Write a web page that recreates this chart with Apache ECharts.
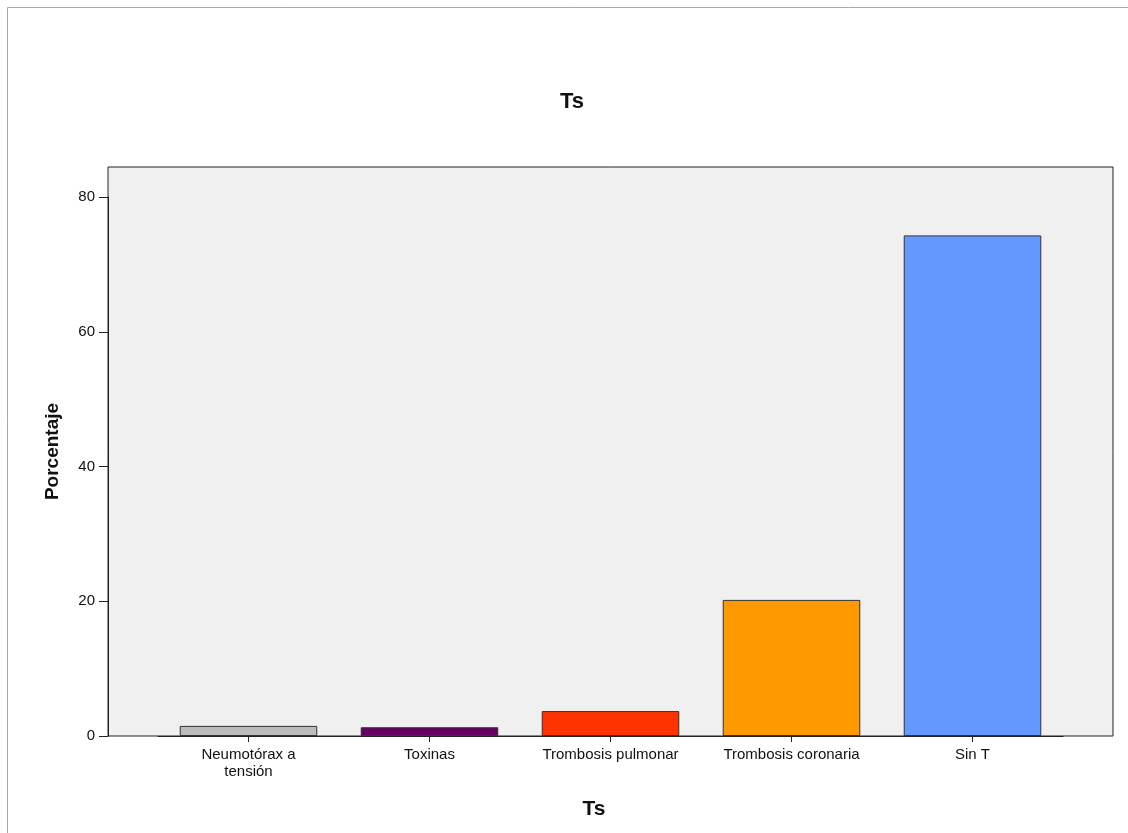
<!DOCTYPE html>
<html>
<head>
<meta charset="utf-8">
<script src="https://cdn.jsdelivr.net/npm/echarts@6/dist/echarts.min.js"></script>
<style>
  html, body { margin: 0; padding: 0; background: #ffffff; }
  #chart { width: 1128px; height: 833px; }
</style>
</head>
<body>
<div id="chart"></div>
<script>
// Categories and percentages for the "Ts" bar chart
const categories = ['Neumotórax a\ntensión', 'Toxinas', 'Trombosis pulmonar', 'Trombosis coronaria', 'Sin T'];
const percentages = [1.5, 1.3, 3.7, 20.2, 74.3];
const barColors = ['#bbbbbb', '#660066', '#ff3300', '#ff9900', '#6699ff'];
const yTicks = [0, 20, 40, 60, 80];

const font = '"Liberation Sans", Arial, sans-serif';

const chart = echarts.init(document.getElementById('chart'));
chart.setOption({
  backgroundColor: '#ffffff',
  animation: false,
  title: [
    { text: 'Ts', left: 567, top: 86, textAlign: 'center',
      textStyle: { fontFamily: font, fontSize: 22, fontWeight: 'bold', color: '#111' } },
    { text: 'Ts', left: 589, top: 794, textAlign: 'center',
      textStyle: { fontFamily: font, fontSize: 21, fontWeight: 'bold', color: '#111' } }
  ],
  graphic: [
    { type: 'rect', shape: { x: 7.5, y: 7.5, width: 1130, height: 840 },
      style: { fill: 'none', stroke: '#a8a8a8', lineWidth: 1 }, silent: true }
  ],
  grid: [
    // framed plot background
    { left: 108, right: 15, top: 167, bottom: 97, show: true,
      backgroundColor: '#f0f0f0', borderColor: '#222', borderWidth: 1 },
    // bars
    { left: 158, right: 65, top: 197, bottom: 97 }
  ],
  xAxis: [
    { type: 'value', gridIndex: 0, show: false, min: 0, max: 1 },
    { type: 'category', gridIndex: 1, data: categories,
      axisLine: { show: true, lineStyle: { color: '#222', width: 1 } },
      axisTick: { show: true, alignWithLabel: true, length: 6, lineStyle: { color: '#222' } },
      axisLabel: { fontFamily: font, fontSize: 15, color: '#111', margin: 10, interval: 0, lineHeight: 17 } }
  ],
  yAxis: [
    { type: 'value', gridIndex: 0, min: 0, max: 1,
      name: 'Porcentaje', nameLocation: 'middle', nameRotate: 90, nameGap: 46,
      nameTextStyle: { fontFamily: font, fontSize: 19, fontWeight: 'bold', color: '#111' },
      axisLine: { show: false }, axisTick: { show: false }, axisLabel: { show: false },
      splitLine: { show: false } },
    { type: 'value', gridIndex: 1, min: yTicks[0], max: yTicks[yTicks.length - 1], interval: 20,
      offset: 50,
      axisLine: { show: true, lineStyle: { color: '#222', width: 1 } },
      axisTick: { show: true, length: 9, lineStyle: { color: '#222' } },
      axisLabel: { fontFamily: font, fontSize: 15, color: '#111', margin: 13 },
      splitLine: { show: false } }
  ],
  series: [{
    type: 'bar',
    xAxisIndex: 1, yAxisIndex: 1,
    barCategoryGap: '24%',
    data: percentages.map((v, i) => ({
      value: v,
      itemStyle: { color: barColors[i], borderColor: '#333', borderWidth: 1 }
    }))
  }]
});
</script>
</body>
</html>
